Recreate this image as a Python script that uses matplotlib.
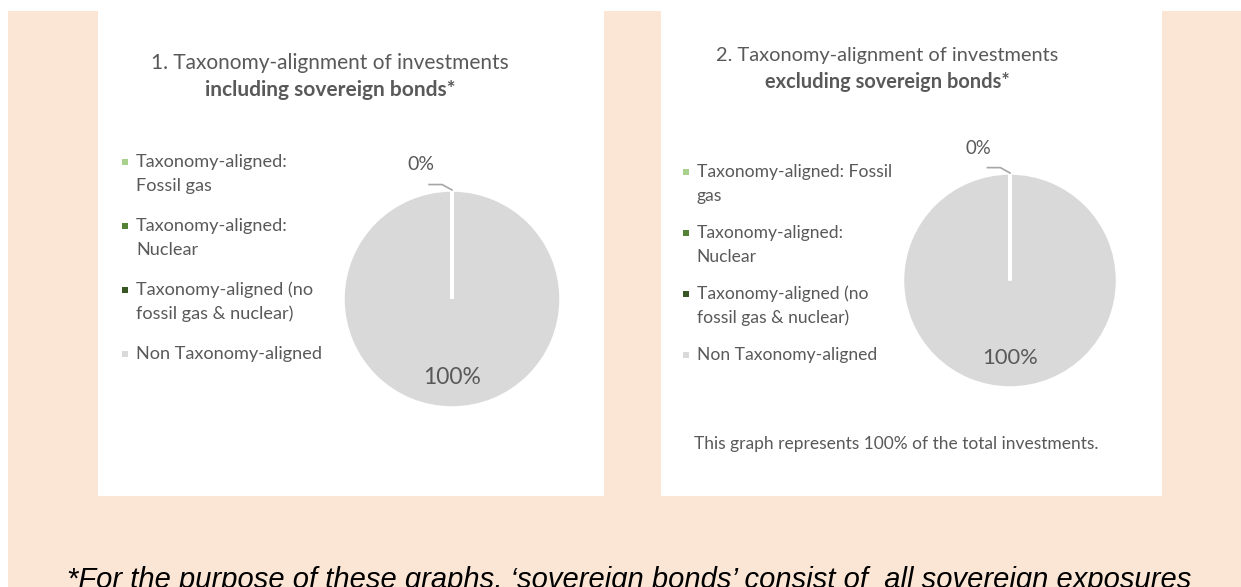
import numpy as np
import matplotlib
matplotlib.use("Agg")
import matplotlib.pyplot as plt
from matplotlib.patches import Rectangle

# chart data
categories = ["Taxonomy-aligned: Fossil gas", "Taxonomy-aligned: Nuclear",
              "Taxonomy-aligned (no fossil gas & nuclear)", "Non Taxonomy-aligned"]
incl_values = [0, 0, 0, 100]   # 1. including sovereign bonds
excl_values = [0, 0, 0, 100]   # 2. excluding sovereign bonds
incl_legend = ["Taxonomy-aligned:\nFossil gas", "Taxonomy-aligned:\nNuclear",
               "Taxonomy-aligned (no\nfossil gas & nuclear)", "Non Taxonomy-aligned"]
excl_legend = ["Taxonomy-aligned: Fossil\ngas", "Taxonomy-aligned:\nNuclear",
               "Taxonomy-aligned (no\nfossil gas & nuclear)", "Non Taxonomy-aligned"]
incl_title = ["1. Taxonomy-alignment of investments", "including sovereign bonds*"]
excl_title = ["2. Taxonomy-alignment of investments", "excluding sovereign bonds*"]
note = "This graph represents 100% of the total investments."
footnote = "*For the purpose of these graphs, \u2018sovereign bonds\u2019 consist of  all sovereign exposures"

colors = ["#A9D18E", "#548235", "#375623", "#D9D9D9"]
txt_gray = "#595959"
peach = "#FBE6D6"

W, H = 1241, 587
fig = plt.figure(figsize=(W / 100, H / 100), dpi=100)
fig.patch.set_facecolor("white")

# background layer in pixel coords
bg = fig.add_axes([0, 0, 1, 1])
bg.set_xlim(0, W)
bg.set_ylim(H, 0)
bg.axis("off")
bg.add_patch(Rectangle((8, 11), W - 8, H - 11, color=peach, lw=0))
bg.add_patch(Rectangle((98, 0), 506, 496, color="white", lw=0))
bg.add_patch(Rectangle((661, 0), 501, 496, color="white", lw=0))

plt.rcParams["font.family"] = ["Lato", "DejaVu Sans"]


def draw_panel(values, legend, title, cx, cy, r, tx, ty, lx, ly, pitch, line_h, s):
    # title
    bg.text(tx, ty, title[0], ha="center", va="center", fontsize=15 * s, color=txt_gray)
    bg.text(tx, ty + 27 * s, title[1], ha="center", va="center", fontsize=15 * s,
            color=txt_gray, fontweight="bold")
    # legend
    y = ly
    for lab, c in zip(legend, colors):
        bg.plot(lx, y, marker="s", ms=5 * s, color=c, mew=0)
        for k, line in enumerate(lab.split("\n")):
            bg.text(lx + 11 * s, y + k * line_h, line, ha="left", va="center",
                    fontsize=13.1 * s, color=txt_gray)
        y += pitch

    # pie
    lim = 1.5
    size = 2 * lim * r
    ax = fig.add_axes([(cx - size / 2) / W, (H - cy - size / 2) / H, size / W, size / H])
    wedges, _ = ax.pie(values, colors=colors, startangle=90, counterclock=False,
                       wedgeprops=dict(edgecolor="white", linewidth=2.5))
    for w, v in zip(wedges, values):
        if v == 0:
            w.set_zorder(3)
    ax.set_xlim(-lim, lim)
    ax.set_ylim(-lim, lim)
    ax.axis("off")

    total = sum(values)
    # aligned share label (all zero slices sit at the same angle)
    aligned = sum(values[:3]) / total * 100
    a = np.deg2rad(wedges[0].theta1)
    px, py = np.cos(a), np.sin(a)
    ax.plot([px - 0.21, px - 0.09, px], [py + 0.05, py + 0.05, py], color="#A6A6A6", lw=1.2,
            clip_on=False, zorder=4)
    ax.text(px - 0.29, py + 0.23, f"{aligned:.0f}%", ha="center", va="center",
            fontsize=14 * s, color=txt_gray)
    # non-aligned share label
    big = wedges[3]
    m = np.deg2rad((big.theta1 + big.theta2) / 2)
    share = values[3] / total * 100
    ax.text(0.72 * np.cos(m), 0.72 * np.sin(m), f"{share:.0f}%", ha="center", va="center",
            fontsize=16.5 * s, color=txt_gray)


draw_panel(incl_values, incl_legend, incl_title, 452, 299, 109, 330, 63,
           125, 162, 64, 24, 1.0)
draw_panel(excl_values, excl_legend, excl_title, 1010, 280.5, 107.5, 887, 56,
           686, 172, 61, 24, 0.96)

bg.text(694, 444, note, ha="left", va="center", fontsize=13 * 0.96, color=txt_gray)

bg.text(67, 588, footnote, ha="left", va="baseline", fontsize=21, style="italic",
        family="Liberation Sans", color="black")

fig.savefig("out.png", dpi=100, facecolor=fig.get_facecolor())
